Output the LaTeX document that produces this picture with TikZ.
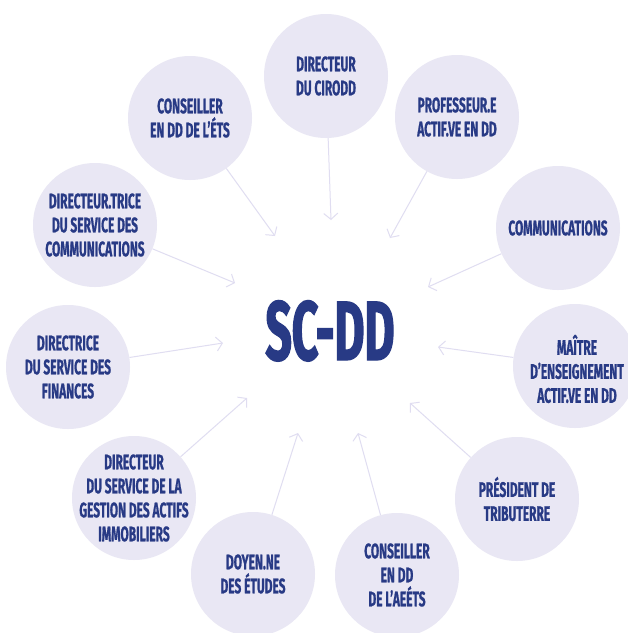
\documentclass[tikz,border=0pt]{standalone}
\usepackage{fontspec}
\usetikzlibrary{arrows.meta}
\newfontfamily\condf[FakeStretch=0.57,FakeBold=0.8]{Fira Sans}
\newfontfamily\bigcondf[FakeStretch=0.55,FakeBold=1.5]{Fira Sans}
\definecolor{navy}{HTML}{283A85}
\definecolor{disc}{HTML}{E9E7F4}
\definecolor{arrowc}{HTML}{E0DDF1}
\tikzset{
  disk/.style={circle,fill=disc,draw=none,minimum size=124pt,inner sep=0pt},
  lbl/.style={text=navy,align=center,inner sep=0pt,font=\condf\bfseries\fontsize{21}{24}\selectfont},
  arr/.style={draw=arrowc,line width=1pt,-{Straight Barb[length=6pt,width=14pt]}},
  title/.style={text=navy,inner sep=0pt,font=\bigcondf\bfseries\fontsize{84}{90}\selectfont}
}
\begin{document}
\begin{tikzpicture}[x=1pt,y=-1pt]
\path[use as bounding box] (0,0) rectangle (628,633);
\clip (0,0) rectangle (628,633);
\fill[white] (0,0) rectangle (628,633);
% circles
\node[disk] (c1) at (326,76) {};
\node[disk] (c2) at (457,117) {};
\node[disk] (c3) at (558,228) {};
\node[disk] (c4) at (575,366) {};
\node[disk] (c5) at (517,499) {};
\node[disk] (c6) at (397,575) {};
\node[disk] (c7) at (253,574) {};
\node[disk] (c8) at (134,498) {};
\node[disk] (c9) at (68,367) {};
\node[disk] (c10) at (95,225) {};
\node[disk] (c11) at (190,118) {};
% labels
\node[lbl] (l1) at (c1) {DIRECTEUR\\DU CIRODD};
\node[lbl] (l2) at (c2) {PROFESSEUR.E\\ACTIF.VE EN DD};
\node[lbl] (l3) at (c3) {COMMUNICATIONS};
\node[lbl] (l4) at (577,369) {MAÎTRE\\D’ENSEIGNEMENT\\ACTIF.VE EN DD};
\node[lbl] (l5) at (c5) {PRÉSIDENT DE\\TRIBUTERRE};
\node[lbl] (l6) at (c6) {CONSEILLER\\EN DD\\DE L’AEÉTS};
\node[lbl] (l7) at (c7) {DOYEN.NE\\DES ÉTUDES};
\node[lbl] (l8) at (c8) {DIRECTEUR\\DU SERVICE DE LA\\GESTION DES ACTIFS\\IMMOBILIERS};
\node[lbl] (l9) at (c9) {DIRECTRICE\\DU SERVICE DES\\FINANCES};
\node[lbl] (l10) at (c10) {DIRECTEUR.TRICE\\DU SERVICE DES\\COMMUNICATIONS};
\node[lbl] (l11) at (c11) {CONSEILLER\\EN DD DE L’ÉTS};
% centre
\node[title,anchor=base] (sc) at (330,360) {SC-DD};
% arrow tips
\coordinate (t1) at (331,220);
\coordinate (t2) at (390,238);
\coordinate (t3) at (428,287);
\coordinate (t4) at (438,347);
\coordinate (t5) at (410,403);
\coordinate (t6) at (358,433);
\coordinate (t7) at (298,433);
\coordinate (t8) at (247,398);
\coordinate (t9) at (223,343);
\coordinate (t10) at (235,283);
\coordinate (t11) at (275,236);
\foreach \i in {1,...,11} {\draw[arr] (c\i) -- (t\i);}
\end{tikzpicture}
\end{document}
